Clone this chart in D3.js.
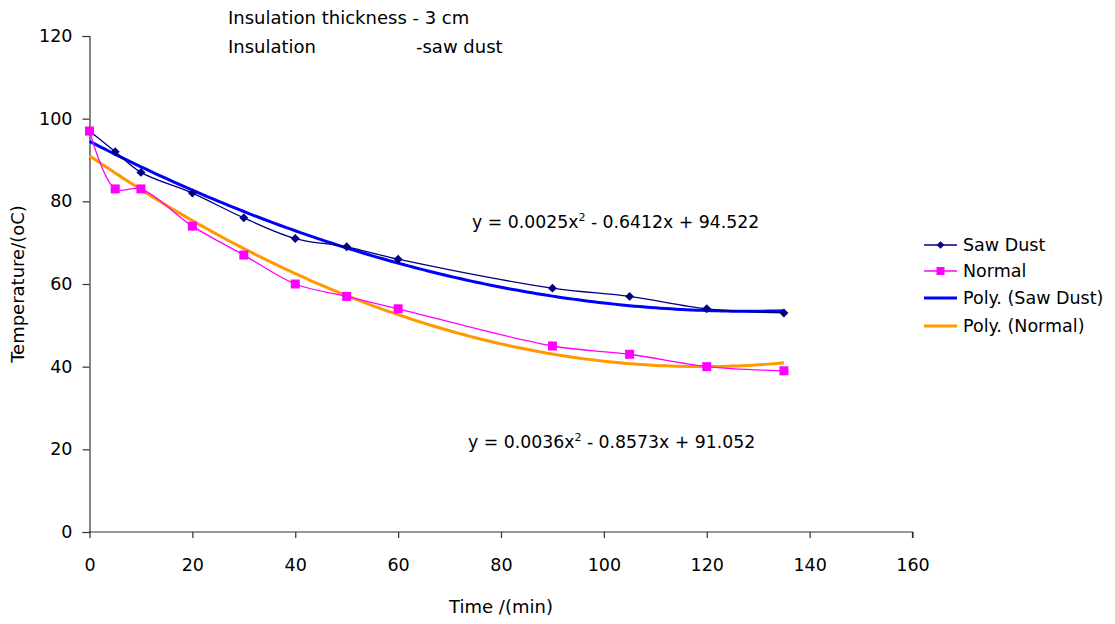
<!DOCTYPE html>
<html>
<head>
<meta charset="utf-8">
<script src="https://cdn.jsdelivr.net/npm/d3@7"></script>
<style>
html,body{margin:0;padding:0;background:#fff;}
svg text{font-family:"Comic Sans MS","DejaVu Sans",sans-serif;fill:#000;}
</style>
</head>
<body>
<svg id="chart" width="1115" height="624"></svg>
<script>
const time = [0, 5, 10, 20, 30, 40, 50, 60, 90, 105, 120, 135];
const sawDust = [97, 92, 87, 82, 76, 71, 69, 66, 59, 57, 54, 53];
const normal = [97, 83, 83, 74, 67, 60, 57, 54, 45, 43, 40, 39];
const polySaw = [0.0025, -0.6412, 94.522];
const polyNormal = [0.0036, -0.8573, 91.052];
const xTicks = [0, 20, 40, 60, 80, 100, 120, 140, 160];
const yTicks = [0, 20, 40, 60, 80, 100, 120];
const legendLabels = ["Saw Dust", "Normal", "Poly. (Saw Dust)", "Poly. (Normal)"];

const FONT = '"Comic Sans MS","DejaVu Sans",sans-serif';
const FS = 17.5;
const svg = d3.select("#chart");
const x = d3.scaleLinear().domain([0, 160]).range([89.5, 912.5]);
const y = d3.scaleLinear().domain([0, 120]).range([532, 36]);

// axes
const xAxis = svg.append("g").attr("transform", `translate(0,${y(0)})`)
  .call(d3.axisBottom(x).tickValues(xTicks).tickSize(6).tickPadding(21).tickFormat(d3.format("d")));
const yAxis = svg.append("g").attr("transform", `translate(${x(0)},0)`)
  .call(d3.axisLeft(y).tickValues(yTicks).tickSize(7).tickPadding(10).tickFormat(d3.format("d")));
[xAxis, yAxis].forEach(a => {
  a.selectAll("path,line").attr("stroke", "#333").attr("stroke-width", 1.2);
  a.selectAll("text").attr("font-size", FS).attr("font-family", FONT).attr("fill", "#000");
});
xAxis.select(".domain").attr("d", `M${x(0)},0.5V0H${x(160)}V6`);

// trendlines
const tl = [];
for (let t = 0; t <= 135; t += 1) tl.push(t);
const polyLine = c => d3.line().x(d => x(d)).y(d => y(c[0]*d*d + c[1]*d + c[2]));
svg.append("path").datum(tl).attr("d", polyLine(polySaw)).attr("fill", "none").attr("stroke", "#0000FF").attr("stroke-width", 3);
svg.append("path").datum(tl).attr("d", polyLine(polyNormal)).attr("fill", "none").attr("stroke", "#FF9900").attr("stroke-width", 3);

// series lines
const smooth = d3.line().x(d => x(d[0])).y(d => y(d[1])).curve(d3.curveCatmullRom.alpha(0.5));
const sawPts = time.map((t, i) => [t, sawDust[i]]);
const normPts = time.map((t, i) => [t, normal[i]]);
svg.append("path").datum(sawPts).attr("d", smooth).attr("fill", "none").attr("stroke", "#000080").attr("stroke-width", 1.3);
svg.append("path").datum(normPts).attr("d", smooth).attr("fill", "none").attr("stroke", "#FF00FF").attr("stroke-width", 1.3);

svg.append("g").selectAll("path").data(sawPts).join("path")
  .attr("d", d3.symbol().type(d3.symbolSquare).size(40)())
  .attr("transform", d => `translate(${x(d[0])},${y(d[1])}) rotate(45)`)
  .attr("fill", "#000080");
svg.append("g").selectAll("rect").data(normPts).join("rect")
  .attr("x", d => x(d[0]) - 4.5).attr("y", d => y(d[1]) - 4.5)
  .attr("width", 9).attr("height", 9).attr("fill", "#FF00FF");

// equations
function eq(xp, yp, a, b) {
  const t = svg.append("text").attr("x", xp).attr("y", yp).attr("font-size", 17.3);
  t.append("tspan").text(a);
  t.append("tspan").attr("font-size", 11).attr("dy", -7).text("2");
  t.append("tspan").attr("dy", 7).text(b);
}
eq(472, 228, "y = 0.0025x", " - 0.6412x + 94.522");
eq(468, 448, "y = 0.0036x", " - 0.8573x + 91.052");

// titles
svg.append("text").attr("x", 228).attr("y", 24).attr("font-size", 18).text("Insulation thickness - 3 cm");
svg.append("text").attr("x", 228).attr("y", 53).attr("font-size", 18).text("Insulation");
svg.append("text").attr("x", 416).attr("y", 53).attr("font-size", 18).text("-saw dust");

// axis titles
svg.append("text").attr("x", 501).attr("y", 613).attr("text-anchor", "middle").attr("font-size", 18).text("Time /(min)");
svg.append("text").attr("transform", "translate(24,284) rotate(-90)").attr("text-anchor", "middle").attr("font-size", 18).text("Temperature/(oC)");

// legend
const lg = svg.append("g");
const ly = [245, 271, 298, 326];
const lstyles = [
  {c: "#000080", w: 1.3, m: "d"},
  {c: "#FF00FF", w: 1.3, m: "s"},
  {c: "#0000FF", w: 3, m: null},
  {c: "#FF9900", w: 3, m: null}
];
legendLabels.forEach((lab, i) => {
  const s = lstyles[i];
  lg.append("line").attr("x1", 924).attr("x2", 957).attr("y1", ly[i]).attr("y2", ly[i]).attr("stroke", s.c).attr("stroke-width", s.w);
  if (s.m === "d") lg.append("path").attr("d", d3.symbol().type(d3.symbolSquare).size(30)()).attr("transform", `translate(940.5,${ly[i]}) rotate(45)`).attr("fill", s.c);
  if (s.m === "s") lg.append("rect").attr("x", 936.5).attr("y", ly[i] - 4).attr("width", 8).attr("height", 8).attr("fill", s.c);
  lg.append("text").attr("x", 963).attr("y", ly[i] + 6).attr("font-size", 17.5).text(lab);
});
</script>
</body>
</html>
